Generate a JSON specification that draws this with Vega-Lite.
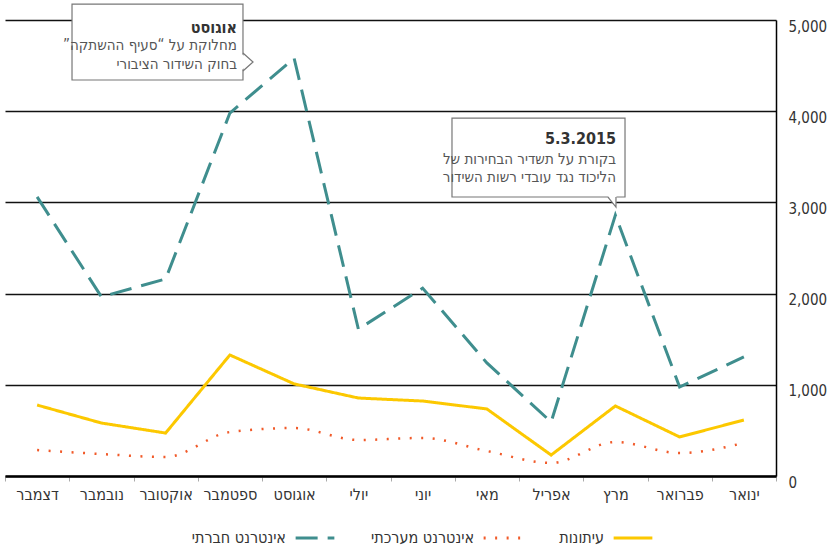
{
  "$schema": "https://vega.github.io/schema/vega-lite/v6.json",
  "width": 771,
  "height": 456,
  "autosize": {"type": "none"},
  "padding": {"left": 5, "top": 20, "right": 54, "bottom": 73},
  "background": "white",
  "config": {
    "font": "Liberation Sans Narrow, DejaVu Sans Condensed, sans-serif",
    "view": {"stroke": null}
  },
  "data": {
    "values": [
      {"month": "דצמבר", "series": "אינטרנט חברתי", "value": 3060},
      {"month": "נובמבר", "series": "אינטרנט חברתי", "value": 1965},
      {"month": "אוקטובר", "series": "אינטרנט חברתי", "value": 2160},
      {"month": "ספטמבר", "series": "אינטרנט חברתי", "value": 3980},
      {"month": "אוגוסט", "series": "אינטרנט חברתי", "value": 4580},
      {"month": "יולי", "series": "אינטרנט חברתי", "value": 1610},
      {"month": "יוני", "series": "אינטרנט חברתי", "value": 2060},
      {"month": "מאי", "series": "אינטרנט חברתי", "value": 1240},
      {"month": "אפריל", "series": "אינטרנט חברתי", "value": 592},
      {"month": "מרץ", "series": "אינטרנט חברתי", "value": 2860},
      {"month": "פברואר", "series": "אינטרנט חברתי", "value": 976},
      {"month": "ינואר", "series": "אינטרנט חברתי", "value": 1305},
      {"month": "דצמבר", "series": "עיתונות", "value": 778},
      {"month": "נובמבר", "series": "עיתונות", "value": 581},
      {"month": "אוקטובר", "series": "עיתונות", "value": 471},
      {"month": "ספטמבר", "series": "עיתונות", "value": 1327},
      {"month": "אוגוסט", "series": "עיתונות", "value": 1010},
      {"month": "יולי", "series": "עיתונות", "value": 855},
      {"month": "יוני", "series": "עיתונות", "value": 822},
      {"month": "מאי", "series": "עיתונות", "value": 735},
      {"month": "אפריל", "series": "עיתונות", "value": 230},
      {"month": "מרץ", "series": "עיתונות", "value": 768},
      {"month": "פברואר", "series": "עיתונות", "value": 428},
      {"month": "ינואר", "series": "עיתונות", "value": 614},
      {"month": "דצמבר", "series": "אינטרנט מערכתי", "value": 285},
      {"month": "נובמבר", "series": "אינטרנט מערכתי", "value": 241},
      {"month": "אוקטובר", "series": "אינטרנט מערכתי", "value": 208},
      {"month": "ספטמבר", "series": "אינטרנט מערכתי", "value": 482},
      {"month": "אוגוסט", "series": "אינטרנט מערכתי", "value": 526},
      {"month": "יולי", "series": "אינטרנט מערכתי", "value": 395},
      {"month": "יוני", "series": "אינטרנט מערכתי", "value": 417},
      {"month": "מאי", "series": "אינטרנט מערכתי", "value": 274},
      {"month": "אפריל", "series": "אינטרנט מערכתי", "value": 143},
      {"month": "מרץ", "series": "אינטרנט מערכתי", "value": 373},
      {"month": "פברואר", "series": "אינטרנט מערכתי", "value": 252},
      {"month": "ינואר", "series": "אינטרנט מערכתי", "value": 362}
    ]
  },
  "resolve": {"scale": {"x": "independent"}},
  "layer": [
    {
      "encoding": {
        "x": {
          "field": "month",
          "type": "ordinal",
          "sort": ["דצמבר", "נובמבר", "אוקטובר", "ספטמבר", "אוגוסט", "יולי", "יוני", "מאי", "אפריל", "מרץ", "פברואר", "ינואר"],
          "scale": {"type": "band", "paddingInner": 0, "paddingOuter": 0},
          "axis": {
            "title": null,
            "labelAngle": 0,
            "labelFontSize": 16,
            "labelColor": "#333",
            "labelPadding": 5,
            "domainColor": "#000",
            "domainWidth": 2.5,
            "ticks": true,
            "tickBand": "extent",
            "tickColor": "#aaa",
            "tickSize": 5,
            "grid": false
          }
        },
        "y": {
          "field": "value",
          "type": "quantitative",
          "scale": {"domain": [0, 5000], "nice": false},
          "axis": {
            "title": null,
            "orient": "right",
            "values": [0, 1000, 2000, 3000, 4000, 5000],
            "format": ",d",
            "grid": true,
            "gridColor": "#111",
            "gridWidth": 1.3,
            "domain": true,
            "domainColor": "#000",
            "domainWidth": 1.5,
            "ticks": false,
            "labelPadding": 12,
            "labelFontSize": 15,
            "labelColor": "#333",
            "labelBaseline": "alphabetic",
            "labelOffset": 11
          }
        },
        "color": {
          "field": "series",
          "type": "nominal",
          "scale": {
            "domain": ["אינטרנט חברתי", "אינטרנט מערכתי", "עיתונות"],
            "range": ["#3f8e8e", "#f15a29", "#fcc800"]
          },
          "legend": {
            "orient": "none",
            "legendX": 289,
            "legendY": 497,
            "direction": "horizontal",
            "title": null,
            "symbolType": "stroke",
            "symbolSize": 1500,
            "symbolStrokeWidth": 3,
            "labelFontSize": 16,
            "labelColor": "#333",
            "labelAlign": "right",
            "labelOffset": -50,
            "labelLimit": 300,
            "columnPadding": 30
          }
        },
        "strokeDash": {
          "field": "series",
          "type": "nominal",
          "scale": {
            "domain": ["אינטרנט חברתי", "אינטרנט מערכתי", "עיתונות"],
            "range": [[22, 10], [2, 9.5], [1, 0]]
          },
          "legend": {
            "orient": "none",
            "legendX": 289,
            "legendY": 497,
            "direction": "horizontal",
            "title": null,
            "symbolType": "stroke",
            "symbolSize": 1500,
            "symbolStrokeWidth": 3,
            "labelFontSize": 16,
            "labelColor": "#333",
            "labelAlign": "right",
            "labelOffset": -50,
            "labelLimit": 300,
            "columnPadding": 30
          }
        }
      },
      "layer": [
        {
          "transform": [{"filter": "datum.series !== 'אינטרנט מערכתי'"}],
          "mark": {"type": "line", "strokeWidth": 3}
        },
        {
          "transform": [{"filter": "datum.series === 'אינטרנט מערכתי'"}],
          "mark": {"type": "line", "strokeWidth": 2.5, "interpolate": "monotone"}
        }
      ]
    },
    {
      "data": {"values": [{}]},
      "layer": [
        {
          "mark": {"type": "rect", "fill": "white", "stroke": "#777", "strokeWidth": 1.2},
          "encoding": {
            "x": {"datum": 1.043, "type": "quantitative", "scale": {"domain": [0, 12], "nice": false}, "axis": null},
            "x2": {"datum": 3.704},
            "y": {"datum": 5175, "type": "quantitative", "scale": {"domain": [0, 5000], "nice": false}, "title": null},
            "y2": {"datum": 4342}
          }
        },
        {
          "mark": {"type": "point", "shape": "M -0.8 -0.95 L 0.56 0 L -0.8 0.95 Z", "size": 324, "filled": true, "fill": "white", "strokeWidth": 0, "opacity": 1},
          "encoding": {
            "x": {"datum": 3.782, "type": "quantitative", "scale": {"domain": [0, 12], "nice": false}, "axis": null},
            "y": {"datum": 4539, "type": "quantitative", "scale": {"domain": [0, 5000], "nice": false}, "title": null}
          }
        },
        {
          "mark": {"type": "point", "shape": "M -0.56 -1 L 0.56 0 L -0.56 1", "size": 324, "filled": false, "stroke": "#777", "strokeWidth": 1.2, "opacity": 1},
          "encoding": {
            "x": {"datum": 3.782, "type": "quantitative", "scale": {"domain": [0, 12], "nice": false}, "axis": null},
            "y": {"datum": 4539, "type": "quantitative", "scale": {"domain": [0, 5000], "nice": false}, "title": null}
          }
        },
        {
          "mark": {"type": "rect", "fill": "white", "stroke": "#777", "strokeWidth": 1.2},
          "encoding": {
            "x": {"datum": 6.957, "type": "quantitative", "scale": {"domain": [0, 12], "nice": false}, "axis": null},
            "x2": {"datum": 9.65},
            "y": {"datum": 3925, "type": "quantitative", "scale": {"domain": [0, 5000], "nice": false}, "title": null},
            "y2": {"datum": 3059}
          }
        },
        {
          "mark": {"type": "point", "shape": "M -0.9 -1.35 L 0.8 1 L 0.9 -1.35 Z", "size": 100, "filled": true, "fill": "white", "strokeWidth": 0, "opacity": 1},
          "encoding": {
            "x": {"datum": 9.447, "type": "quantitative", "scale": {"domain": [0, 12], "nice": false}, "axis": null},
            "y": {"datum": 3004, "type": "quantitative", "scale": {"domain": [0, 5000], "nice": false}, "title": null}
          }
        },
        {
          "mark": {"type": "point", "shape": "M -0.8 -1 L 0.8 1 L 0.8 -1", "size": 100, "filled": false, "stroke": "#777", "strokeWidth": 1.2, "opacity": 1},
          "encoding": {
            "x": {"datum": 9.447, "type": "quantitative", "scale": {"domain": [0, 12], "nice": false}, "axis": null},
            "y": {"datum": 3004, "type": "quantitative", "scale": {"domain": [0, 5000], "nice": false}, "title": null}
          }
        },
        {
          "mark": {"type": "text", "text": "אוגוסט", "align": "right", "baseline": "alphabetic", "fontSize": 16, "fontWeight": "bold", "color": "#333"},
          "encoding": {
            "x": {"datum": 3.611, "type": "quantitative", "scale": {"domain": [0, 12], "nice": false}, "axis": null},
            "y": {"datum": 4860, "type": "quantitative", "scale": {"domain": [0, 5000], "nice": false}, "title": null}
          }
        },
        {
          "mark": {"type": "text", "text": ["מחלוקת על “סעיף ההשתקה”‏", "בחוק השידור הציבורי"], "lineHeight": 19, "align": "right", "baseline": "alphabetic", "fontSize": 15, "color": "#555"},
          "encoding": {
            "x": {"datum": 3.611, "type": "quantitative", "scale": {"domain": [0, 12], "nice": false}, "axis": null},
            "y": {"datum": 4670, "type": "quantitative", "scale": {"domain": [0, 5000], "nice": false}, "title": null}
          }
        },
        {
          "mark": {"type": "text", "text": "5.3.2015", "align": "right", "baseline": "alphabetic", "fontSize": 16, "fontWeight": "bold", "color": "#333"},
          "encoding": {
            "x": {"datum": 9.51, "type": "quantitative", "scale": {"domain": [0, 12], "nice": false}, "axis": null},
            "y": {"datum": 3640, "type": "quantitative", "scale": {"domain": [0, 5000], "nice": false}, "title": null}
          }
        },
        {
          "mark": {"type": "text", "text": ["בקורת על תשדיר הבחירות של", "הליכוד נגד עובדי רשות השידור"], "lineHeight": 18, "align": "right", "baseline": "alphabetic", "fontSize": 15, "color": "#555"},
          "encoding": {
            "x": {"datum": 9.51, "type": "quantitative", "scale": {"domain": [0, 12], "nice": false}, "axis": null},
            "y": {"datum": 3420, "type": "quantitative", "scale": {"domain": [0, 5000], "nice": false}, "title": null}
          }
        }
      ]
    }
  ]
}
